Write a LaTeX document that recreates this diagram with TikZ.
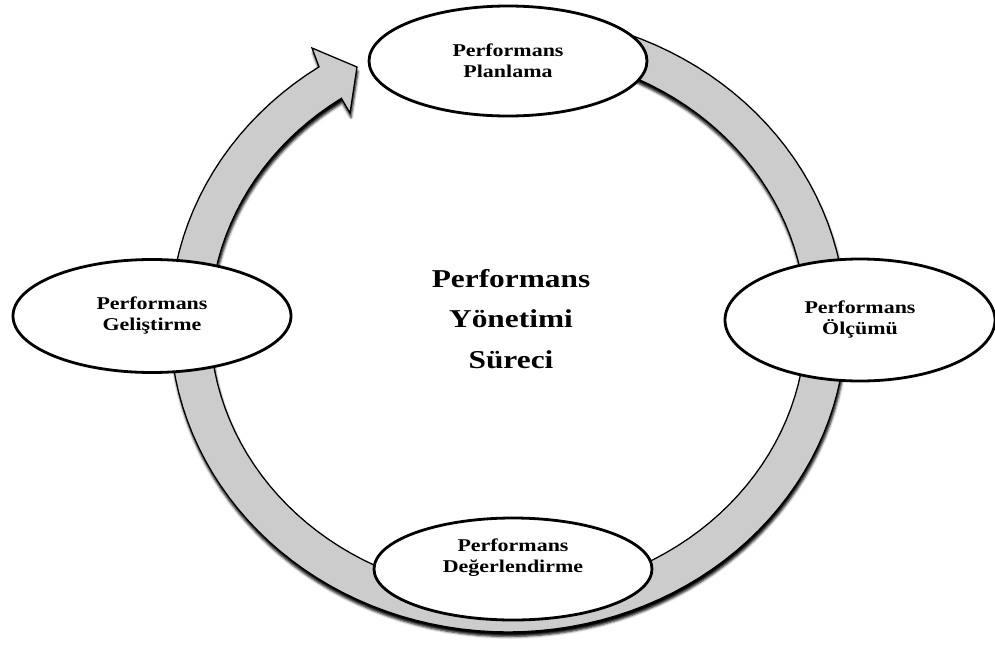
\documentclass[tikz,border=0pt]{standalone}
\usepackage{fontspec}
\setmainfont{Liberation Serif}[FakeStretch=1.22]
\usetikzlibrary{shapes.geometric,shadows.blur}

\begin{document}
\begin{tikzpicture}[
x=1pt,y=-1pt,
ring/.style={
  fill=black!20,
  draw=black,
  line width=1.3pt,
  blur shadow={shadow xshift=1pt,shadow yshift=-4.5pt,shadow blur radius=2.5pt,shadow opacity=100}
},
stage/.style={
  ellipse,
  draw,
  fill=white,
  line width=2.8pt,
  minimum width=278pt,
  minimum height=110pt,
  align=center,
  font=\fontsize{18}{21}\selectfont\bfseries
}
]
\useasboundingbox (0,0) rectangle (995,648);

% the cycle arrow, tail hidden under the planning stage
\path[ring]
  plot[domain=280:596,samples=120] ({508+338*cos(\x)},{323+309*sin(\x)})
  -- (312,48) -- (357,67) -- (350,113)
  -- plot[domain=596:280,samples=120] ({508+298*cos(\x)},{323+271*sin(\x)})
  -- cycle;

\node[stage] (plan) at (508,61)
  {Performans\\Planlama};
\node[stage,minimum height=113pt] (gelistirme) at (152,316)
  {Performans\\Geliştirme};
\node[stage,minimum width=270pt,minimum height=122pt] (olcum) at (860,320)
  {Performans\\Ölçümü};
\node[stage,minimum height=102pt,text depth=26pt] (degerlendirme) at (513,569)
  {Performans\\Değerlendirme};

\node[align=center,font=\fontsize{25.7}{40.5}\selectfont\bfseries] (surec) at (511,319)
  {Performans\\Yönetimi\\Süreci};
\end{tikzpicture}
\end{document}
